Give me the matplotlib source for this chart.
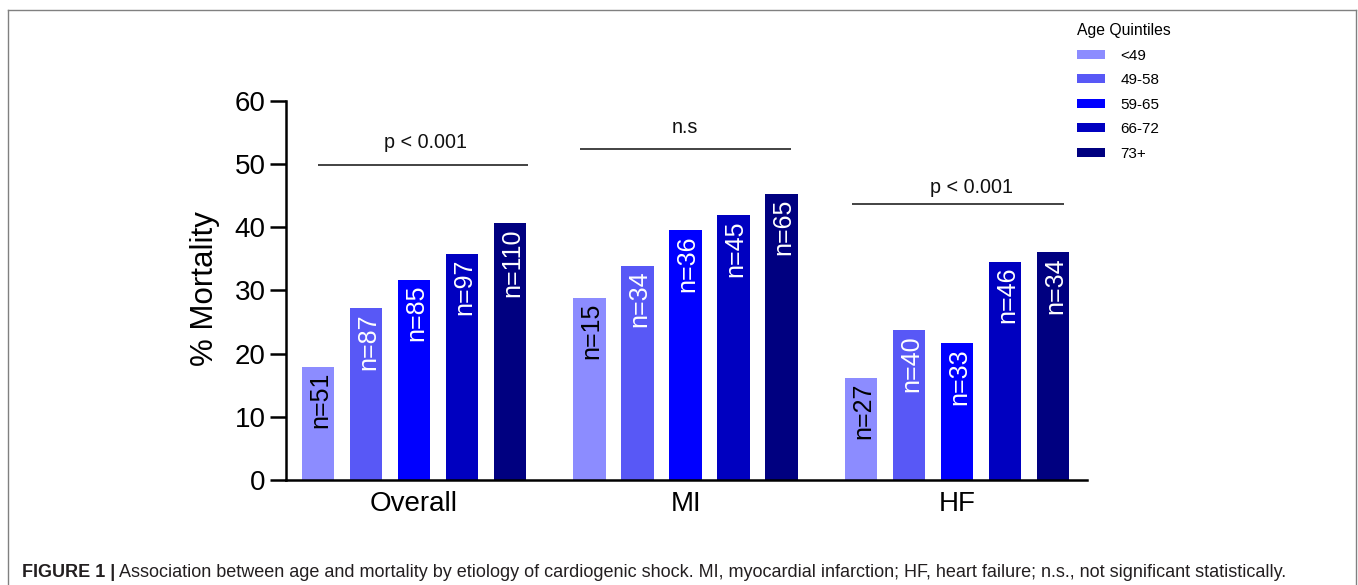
import matplotlib
matplotlib.use("Agg")
import matplotlib.pyplot as plt
from matplotlib.lines import Line2D
from matplotlib.patches import Patch
import numpy as np

plt.rcParams['font.family'] = ['Liberation Sans', 'DejaVu Sans']

# ---- data ----
groups = ["Overall", "MI", "HF"]
quintiles = ["<49", "49-58", "59-65", "66-72", "73+"]
mortality = {
    "Overall": [17.9, 27.2, 31.7, 35.8, 40.6],
    "MI":      [28.8, 33.9, 39.5, 41.9, 45.3],
    "HF":      [16.2, 23.7, 21.6, 34.5, 36.0],
}
counts = {
    "Overall": ["n=51", "n=87", "n=85", "n=97", "n=110"],
    "MI":      ["n=15", "n=34", "n=36", "n=45", "n=65"],
    "HF":      ["n=27", "n=40", "n=33", "n=46", "n=34"],
}
sig_labels = ["p < 0.001", "n.s", "p < 0.001"]
sig_line_y = [49.8, 52.4, 43.6]
sig_text_y = [52.5, 54.9, 45.4]
yticks = [0, 10, 20, 30, 40, 50, 60]
colors = ["#8C8CFF", "#5858F6", "#0000FF", "#0000C0", "#000080"]
text_colors = ["black", "white", "white", "white", "white"]
caption_bold = "FIGURE 1 |"
caption_rest = ("Association between age and mortality by etiology of cardiogenic shock. "
                "MI, myocardial infarction; HF, heart failure; n.s., not significant statistically.")

# ---- layout ----
W, H = 1358, 585
fig = plt.figure(figsize=(W / 100, H / 100), dpi=100)
ax_left, ax_right, ax_bottom, ax_top = 286, 1086.7, 480, 100.7
ax = fig.add_axes([ax_left / W, 1 - ax_bottom / H,
                   (ax_right - ax_left) / W, (ax_bottom - ax_top) / H])

step = 48.0
first = 32.0 / step
gstep = 271.6 / step
width = 32.5 / step

for g, grp in enumerate(groups):
    xs = first + g * gstep + np.arange(len(quintiles))
    ax.bar(xs, mortality[grp], width=width, color=colors, edgecolor='none')
    for x, v, t, tc in zip(xs, mortality[grp], counts[grp], text_colors):
        ax.text(x + 0.04, v - 0.8, t, rotation=90, ha='center', va='top',
                color=tc, fontsize=18)

# legend
handles = [Patch(facecolor=c, edgecolor='none', label=q) for c, q in zip(colors, quintiles)]
leg = fig.legend(handles=handles, title="Age Quintiles", loc='upper left',
                 bbox_to_anchor=(1076.7 / W, 1 - 23 / H), frameon=False,
                 fontsize=11, title_fontsize=11.3, borderpad=0, borderaxespad=0,
                 handlelength=1.83, handleheight=0.52, handletextpad=1.05,
                 labelspacing=0.69, alignment='left')

# significance lines
line_x = [(0.667, 5.048), (6.125, 10.52), (11.80, 16.20)]
text_x = [2.90, 8.32, 14.28]
for (x0, x1), ly, lab, tx, ty in zip(line_x, sig_line_y, sig_labels, text_x, sig_text_y):
    ax.plot([x0, x1], [ly, ly], color='#222222', lw=1.2, solid_capstyle='butt')
    ax.text(tx, ty, lab, ha='center', va='baseline', fontsize=14.2, color='#111111')

ax.set_xlim(0, (ax_right - ax_left) / step)
ax.set_ylim(0, 60)
ax.set_yticks(yticks)
ax.set_yticklabels([str(t) for t in yticks])
ax.set_xticks([first + 2 + g * gstep for g in range(len(groups))])
ax.set_xticklabels(groups)
ax.tick_params(axis='x', length=0, pad=8, labelsize=20)
ax.tick_params(axis='y', length=11.5, width=1.8, pad=3, labelsize=20)
for s in ['top', 'right']:
    ax.spines[s].set_visible(False)
for s in ['left', 'bottom']:
    ax.spines[s].set_linewidth(1.8)
    ax.spines[s].set_color('black')

fig.text(205 / W, 1 - 289 / H, "% Mortality", rotation=90, ha='center', va='center',
         fontsize=22.5)

# border
for xs_, ys_ in [([7.5, 7.5], [585, 9.5]), ([7.5, 1356], [9.5, 9.5]), ([1356, 1356], [9.5, 585])]:
    fig.add_artist(Line2D([x / W for x in xs_], [1 - y / H for y in ys_],
                          color='#808080', lw=1.0, transform=fig.transFigure))

# caption
renderer = fig.canvas.get_renderer()
cap_y = 1 - 577 / H
x0 = 21.7
target_right = 1286.5
fs = 12.0
for _ in range(3):
    t1 = fig.text(x0 / W, cap_y, caption_bold, fontweight='bold', fontsize=fs,
                  ha='left', va='baseline', color='#231F20')
    b1 = t1.get_window_extent(renderer)
    t2 = fig.text((b1.x1 + fs * 0.3) / W, cap_y, caption_rest, fontsize=fs,
                  ha='left', va='baseline', color='#231F20')
    b2 = t2.get_window_extent(renderer)
    total = b2.x1 - x0
    t1.remove(); t2.remove()
    fs = fs * (target_right - x0) / total
t1 = fig.text(x0 / W, cap_y, caption_bold, fontweight='bold', fontsize=fs,
              ha='left', va='baseline', color='#231F20')
b1 = t1.get_window_extent(renderer)
t2 = fig.text((b1.x1 + fs * 0.3) / W, cap_y, caption_rest, fontsize=fs,
              ha='left', va='baseline', color='#231F20')

fig.savefig("out.png", dpi=100)
